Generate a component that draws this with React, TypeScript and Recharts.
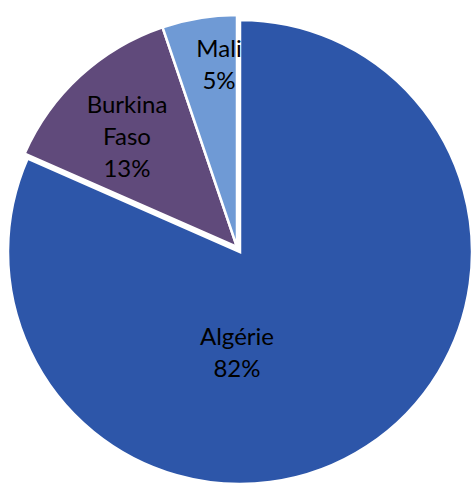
import React from "react";
import { PieChart, Pie, Cell } from "recharts";

// share of each country
const countries = ["Algérie", "Burkina Faso", "Mali"];
const shares = [81.6, 13.2, 5.2];
const colors = ["#2D56A9", "#604A7B", "#6F9AD5"];

// Burkina Faso + Mali are pulled slightly out of the pie
const explodedGroup = ["Burkina Faso", "Mali"];

// label block centre, relative to the pie centre
const labelOffsets: Record<string, { dx: number; dy: number }> = {
  "Algérie": { dx: -3, dy: 99 },
  "Burkina Faso": { dx: -110, dy: -112 },
  Mali: { dx: -18, dy: -184 },
};

const data = countries.map((name, i) => ({ name, value: shares[i] }));

const FONT = "Lato, 'Open Sans', sans-serif";
const LINE_H = 32;

function makeLabel(visible: (name: string) => boolean) {
  return (props: any) => {
    const { cx, cy, name, percent } = props;
    if (!visible(name)) return null;
    const off = labelOffsets[name] || { dx: 0, dy: 0 };
    const lines = [...String(name).split(" "), `${Math.round(percent * 100)}%`];
    const x = cx + off.dx;
    const y0 = cy + off.dy - ((lines.length - 1) * LINE_H) / 2;
    return (
      <text
        x={x}
        y={y0}
        fill="#000"
        fontSize={24}
        fontFamily={FONT}
        textAnchor="middle"
        dominantBaseline="central"
      >
        {lines.map((l, i) => (
          <tspan key={i} x={x} y={y0 + i * LINE_H}>
            {l}
          </tspan>
        ))}
      </text>
    );
  };
}

export default function App() {
  const inGroup = (n: string) => explodedGroup.includes(n);
  return (
    <div style={{ position: "absolute", left: 0, top: 0, background: "#fff" }}>
      <PieChart width={471} height={487} margin={{ top: 0, right: 0, bottom: 0, left: 0 }}>
        <Pie
          data={data}
          dataKey="value"
          nameKey="name"
          cx={240}
          cy={252}
          outerRadius={232}
          startAngle={90}
          endAngle={-270}
          label={makeLabel((n) => !inGroup(n))}
          labelLine={false}
          isAnimationActive={false}
        >
          {data.map((d, i) => (
            <Cell
              key={d.name}
              fill={inGroup(d.name) ? "transparent" : colors[i]}
              stroke={inGroup(d.name) ? "none" : "#fff"}
              strokeWidth={2.5}
            />
          ))}
        </Pie>
        <Pie
          data={data}
          dataKey="value"
          nameKey="name"
          cx={237}
          cy={247}
          outerRadius={232}
          startAngle={90}
          endAngle={-270}
          label={makeLabel((n) => inGroup(n))}
          labelLine={false}
          isAnimationActive={false}
        >
          {data.map((d, i) => (
            <Cell
              key={d.name}
              fill={inGroup(d.name) ? colors[i] : "transparent"}
              stroke={inGroup(d.name) ? "#fff" : "none"}
              strokeWidth={2.5}
            />
          ))}
        </Pie>
      </PieChart>
    </div>
  );
}
